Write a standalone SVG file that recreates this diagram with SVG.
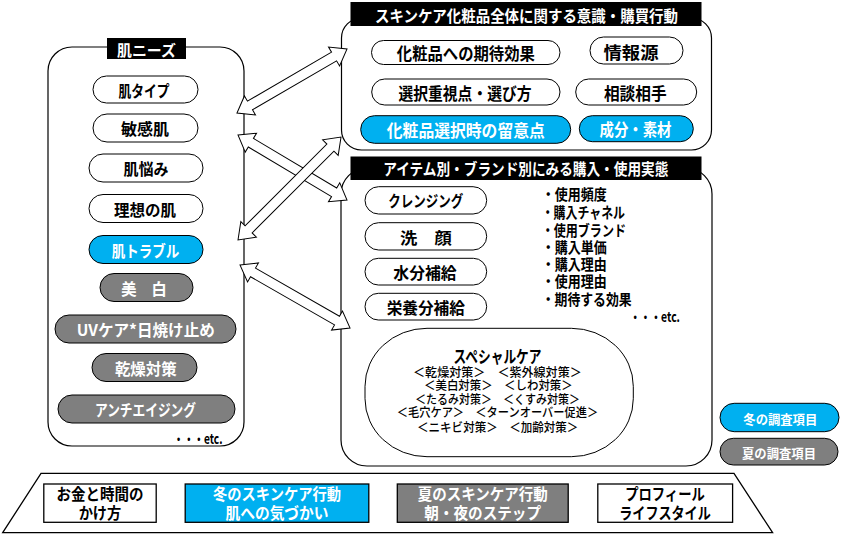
<svg xmlns="http://www.w3.org/2000/svg" width="848" height="547" viewBox="0 0 848 547">
<style>
.box{fill:#fff;stroke:#000;stroke-width:1.2}
.pw{fill:#fff;stroke:#000;stroke-width:1}
.pb{fill:#00B0F0;stroke:#000;stroke-width:1}
.pg{fill:#7F7F7F;stroke:#000;stroke-width:1}
.bar{fill:#000}
.t{font-family:"Noto Sans CJK JP","Noto Sans",sans-serif;font-weight:bold;text-anchor:middle;dominant-baseline:central;fill:#000}
.l{font-family:"Noto Sans CJK JP","Noto Sans",sans-serif;font-weight:bold;text-anchor:start;dominant-baseline:central;fill:#000;font-size:15px}
.s{font-family:"Noto Sans CJK JP","Noto Sans",sans-serif;font-weight:500;text-anchor:middle;dominant-baseline:central;fill:#000;font-size:12.5px}
.w{fill:#fff}
.arr{fill:#fff;stroke:#000;stroke-width:1}
</style>
<rect width="848" height="547" fill="#fff"/>

<g id="skin-needs">
<rect class="box" x="48" y="47" width="196" height="399" rx="24"/>
<rect class="bar" x="107" y="38" width="79" height="21"/>
<text class="t w" x="146.5" y="49" font-size="15" textLength="59" lengthAdjust="spacingAndGlyphs">肌ニーズ</text>
</g>
<g id="n-hada-type"><rect class="pw" x="93" y="76" width="105" height="27" rx="13.5"/><text class="t" x="144" y="90" font-size="16" textLength="51" lengthAdjust="spacingAndGlyphs">肌タイプ</text></g>
<g id="n-binkan"><rect class="pw" x="93" y="114" width="105" height="28" rx="14"/><text class="t" x="145" y="128" font-size="16" textLength="48" lengthAdjust="spacingAndGlyphs">敏感肌</text></g>
<g id="n-nayami"><rect class="pw" x="89" y="154" width="114" height="28" rx="14"/><text class="t" x="146" y="168" font-size="16" textLength="45" lengthAdjust="spacingAndGlyphs">肌悩み</text></g>
<g id="n-risou"><rect class="pw" x="89" y="194.5" width="114" height="28" rx="14"/><text class="t" x="145" y="208.5" font-size="16" textLength="62" lengthAdjust="spacingAndGlyphs">理想の肌</text></g>
<g id="n-trouble"><rect class="pb" x="89" y="235.5" width="114" height="28" rx="14"/><text class="t w" x="145.5" y="249.5" font-size="16" textLength="67.7" lengthAdjust="spacingAndGlyphs">肌トラブル</text></g>
<g id="n-bihaku"><rect class="pg" x="100" y="273.5" width="93" height="28" rx="14"/><text class="t w" x="144" y="287.5" font-size="16" textLength="45.7" lengthAdjust="spacingAndGlyphs">美　白</text></g>
<g id="n-uv"><rect class="pg" x="55" y="315" width="181" height="28" rx="14"/><text class="t w" x="145.8" y="329" font-size="16" textLength="138" lengthAdjust="spacingAndGlyphs">UVケア*日焼け止め</text></g>
<g id="n-kansou"><rect class="pg" x="92" y="353.5" width="105" height="28" rx="14"/><text class="t w" x="145.8" y="367.5" font-size="16" textLength="61.7" lengthAdjust="spacingAndGlyphs">乾燥対策</text></g>
<g id="n-anti"><rect class="pg" x="58" y="395" width="177" height="28" rx="14"/><text class="t w" x="145.5" y="409" font-size="16" textLength="101" lengthAdjust="spacingAndGlyphs">アンチエイジング</text></g>
<g id="n-etc1"><text class="t" x="198" y="438" font-size="14" textLength="49" lengthAdjust="spacingAndGlyphs">・・・etc.</text></g>

<g id="awareness">
<rect class="box" x="341.5" y="18" width="370" height="132" rx="20"/>
<rect class="bar" x="350.5" y="2" width="351" height="24"/>
<text class="t w" x="526.5" y="14.5" font-size="16" textLength="303" lengthAdjust="spacingAndGlyphs">スキンケア化粧品全体に関する意識・購買行動</text>
</g>
<g id="a-kitai"><rect class="pw" x="371.5" y="40.5" width="188.5" height="24" rx="12"/><text class="t" x="465.8" y="52.3" font-size="17" textLength="138" lengthAdjust="spacingAndGlyphs">化粧品への期待効果</text></g>
<g id="a-jouhou"><rect class="pw" x="590" y="37" width="93" height="27" rx="13.5"/><text class="t" x="631" y="51" font-size="17" textLength="55" lengthAdjust="spacingAndGlyphs">情報源</text></g>
<g id="a-sentaku"><rect class="pw" x="371.7" y="79" width="188.3" height="26" rx="13"/><text class="t" x="465" y="92" font-size="17" textLength="133" lengthAdjust="spacingAndGlyphs">選択重視点・選び方</text></g>
<g id="a-soudan"><rect class="pw" x="575.7" y="79" width="121" height="26" rx="13"/><text class="t" x="635.3" y="92" font-size="17" textLength="62.7" lengthAdjust="spacingAndGlyphs">相談相手</text></g>
<g id="a-ryuui"><rect class="pb" x="360.7" y="115.7" width="210" height="27.6" rx="13.8"/><text class="t w" x="465.8" y="129.5" font-size="17" textLength="158" lengthAdjust="spacingAndGlyphs">化粧品選択時の留意点</text></g>
<g id="a-seibun"><rect class="pb" x="579.3" y="115.7" width="114" height="26" rx="13"/><text class="t w" x="635.5" y="128.7" font-size="17" textLength="72" lengthAdjust="spacingAndGlyphs">成分・素材</text></g>

<g id="items">
<rect class="box" x="341" y="168" width="371" height="298" rx="26"/>
<rect class="bar" x="350.5" y="156.5" width="351" height="23.5"/>
<text class="t w" x="525.8" y="168.3" font-size="16" textLength="285" lengthAdjust="spacingAndGlyphs">アイテム別・ブランド別にみる購入・使用実態</text>
</g>
<g id="i-cleansing"><rect class="pw" x="365" y="186.7" width="121.7" height="27.3" rx="13.6"/><text class="t" x="425.8" y="200" font-size="16" textLength="75" lengthAdjust="spacingAndGlyphs">クレンジング</text></g>
<g id="i-sengan"><rect class="pw" x="365" y="222.7" width="121.7" height="27.3" rx="13.6"/><text class="t" x="425.8" y="236.5" font-size="16" textLength="51.7" lengthAdjust="spacingAndGlyphs">洗　顔</text></g>
<g id="i-suibun"><rect class="pw" x="365" y="258.3" width="121.7" height="26.7" rx="13.3"/><text class="t" x="425" y="272" font-size="16" textLength="63.3" lengthAdjust="spacingAndGlyphs">水分補給</text></g>
<g id="i-eiyou"><rect class="pw" x="365" y="293.3" width="121.7" height="26.7" rx="13.3"/><text class="t" x="425.8" y="307" font-size="16" textLength="78.3" lengthAdjust="spacingAndGlyphs">栄養分補給</text></g>
<g id="i-list">
<text class="l" x="541.7" y="193.3" textLength="65" lengthAdjust="spacingAndGlyphs">・使用頻度</text>
<text class="l" x="541.7" y="211.7" textLength="83.3" lengthAdjust="spacingAndGlyphs">・購入チャネル</text>
<text class="l" x="541.7" y="229.5" textLength="84.3" lengthAdjust="spacingAndGlyphs">・使用ブランド</text>
<text class="l" x="541.7" y="246.7" textLength="65" lengthAdjust="spacingAndGlyphs">・購入単価</text>
<text class="l" x="541.7" y="263.5" textLength="65" lengthAdjust="spacingAndGlyphs">・購入理由</text>
<text class="l" x="541.7" y="280.7" textLength="65" lengthAdjust="spacingAndGlyphs">・使用理由</text>
<text class="l" x="541.7" y="298.3" textLength="90" lengthAdjust="spacingAndGlyphs">・期待する効果</text>
<text class="t" x="655" y="316" font-size="14" textLength="50" lengthAdjust="spacingAndGlyphs">・・・etc.</text>
</g>
<g id="i-special">
<rect class="pw" x="365" y="328.3" width="268.3" height="128.4" rx="62" ry="58"/>
<text class="t" x="497.5" y="355" font-size="17" textLength="88" lengthAdjust="spacingAndGlyphs">スペシャルケア</text>
<text class="s" x="497.4" y="371" textLength="168.7" lengthAdjust="spacingAndGlyphs">＜乾燥対策＞　＜紫外線対策＞</text>
<text class="s" x="498.4" y="384.5" textLength="148.7" lengthAdjust="spacingAndGlyphs">＜美白対策＞　＜しわ対策＞</text>
<text class="s" x="497.5" y="398" textLength="165" lengthAdjust="spacingAndGlyphs">＜たるみ対策＞　＜くすみ対策＞</text>
<text class="s" x="497.5" y="411.5" textLength="201.6" lengthAdjust="spacingAndGlyphs">＜毛穴ケア＞　＜ターンオーバー促進＞</text>
<text class="s" x="497.7" y="426" textLength="161.3" lengthAdjust="spacingAndGlyphs">＜ニキビ対策＞　＜加齢対策＞</text>
</g>

<g id="legend-winter"><rect class="pb" x="720" y="403.3" width="119" height="28.4" rx="14.2"/><text class="t w" x="780.3" y="418.5" font-size="13" textLength="74" lengthAdjust="spacingAndGlyphs">冬の調査項目</text></g>
<g id="legend-summer"><rect class="pg" x="720" y="438.3" width="118" height="26.7" rx="13.3"/><text class="t w" x="779" y="452.5" font-size="13" textLength="74" lengthAdjust="spacingAndGlyphs">夏の調査項目</text></g>

<g id="base">
<polygon points="41,473.3 734,473.3 772.6,532.7 2.7,532.7" fill="#fff" stroke="#000" stroke-width="1.3"/>
</g>
<g id="b-okane"><rect x="43.8" y="484" width="112.4" height="38.3" fill="#fff" stroke="#000" stroke-width="1.3"/>
<text class="t" x="100" y="493.3" font-size="16" textLength="87" lengthAdjust="spacingAndGlyphs">お金と時間の</text>
<text class="t" x="100" y="511.5" font-size="16" textLength="42.7" lengthAdjust="spacingAndGlyphs">かけ方</text></g>
<g id="b-winter"><rect x="185.2" y="484" width="183.6" height="38.3" fill="#00B0F0" stroke="#000" stroke-width="1.3"/>
<text class="t w" x="277" y="493.3" font-size="16" textLength="128" lengthAdjust="spacingAndGlyphs">冬のスキンケア行動</text>
<text class="t w" x="277" y="511.5" font-size="16" textLength="103" lengthAdjust="spacingAndGlyphs">肌への気づかい</text></g>
<g id="b-summer"><rect x="397.3" y="484" width="170.9" height="38.3" fill="#7F7F7F" stroke="#000" stroke-width="1.3"/>
<text class="t w" x="482.7" y="493.3" font-size="16" textLength="130" lengthAdjust="spacingAndGlyphs">夏のスキンケア行動</text>
<text class="t w" x="482.7" y="511.5" font-size="16" textLength="116.7" lengthAdjust="spacingAndGlyphs">朝・夜のステップ</text></g>
<g id="b-profile"><rect x="597.8" y="484" width="134.8" height="38.3" fill="#fff" stroke="#000" stroke-width="1.3"/>
<text class="t" x="665" y="493.3" font-size="16" textLength="79.5" lengthAdjust="spacingAndGlyphs">プロフィール</text>
<text class="t" x="665" y="511.5" font-size="16" textLength="91.5" lengthAdjust="spacingAndGlyphs">ライフスタイル</text></g>

<g id="connectors">
<polygon class="arr" transform="translate(237,113) rotate(-30.2)" points="0,0 15,-11 15,-5 112.3,-5 112.3,-11 127.3,0 112.3,11 112.3,5 15,5 15,11"/>
<polygon class="arr" transform="translate(238,135) rotate(30.8)" points="0,0 15,-11 15,-5 111.9,-5 111.9,-11 126.9,0 111.9,11 111.9,5 15,5 15,11"/>
<polygon class="arr" transform="translate(238,240) rotate(-45)" points="0,0 15,-11 15,-5 130.7,-5 130.7,-11 145.7,0 130.7,11 130.7,5 15,5 15,11"/>
<polygon class="arr" transform="translate(240,265) rotate(29.8)" points="0,0 15,-11 15,-5 111.8,-5 111.8,-11 126.8,0 111.8,11 111.8,5 15,5 15,11"/>
</g>
</svg>
